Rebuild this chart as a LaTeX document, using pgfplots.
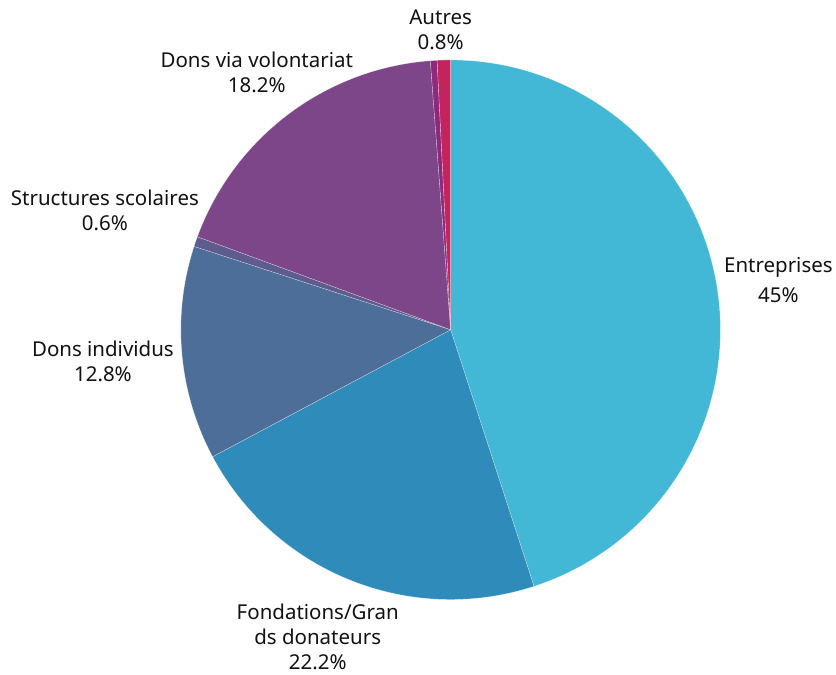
\documentclass[border=0pt]{standalone}
\usepackage{pgfplots}
\pgfplotsset{compat=1.18}
\usepackage{fontspec}
\setmainfont{Noto Sans}

\definecolor{cEnt}{HTML}{42B7D6}
\definecolor{cFon}{HTML}{2E8BBA}
\definecolor{cInd}{HTML}{4D6E98}
\definecolor{cSco}{HTML}{5E5B8E}
\definecolor{cVol}{HTML}{7D4688}
\definecolor{cOth}{HTML}{8E2A7E}
\definecolor{cAut}{HTML}{C4245E}
\definecolor{txt}{HTML}{111111}

% centre and radius in pixel units
\def\cx{451}
\def\cy{330}
\def\rr{270}

\tikzset{lbl/.style={align=center, text=txt, font=\fontsize{20.5}{25}\selectfont}}

\begin{document}
\begin{tikzpicture}
  \begin{axis}[
    scale only axis,
    width=836pt, height=675pt,
    xmin=0, xmax=836, ymin=0, ymax=675,
    y dir=reverse,
    hide axis,
    clip=false,
    every axis plot/.append style={draw=white, draw opacity=0.55, line width=0.35pt},
  ]
    \path (rel axis cs:0,0) rectangle (rel axis cs:1,1);

    % slices, start at top, clockwise
    % Entreprises 45
    \addplot[fill=cEnt, domain=-72:90, samples=160]
      ({\cx+\rr*cos(x)},{\cy-\rr*sin(x)}) -- (axis cs:\cx,\cy) -- cycle;
    % Fondations 22.2
    \addplot[fill=cFon, domain=-151.92:-72, samples=90]
      ({\cx+\rr*cos(x)},{\cy-\rr*sin(x)}) -- (axis cs:\cx,\cy) -- cycle;
    % Dons individus 12.8
    \addplot[fill=cInd, domain=-198:-151.92, samples=60]
      ({\cx+\rr*cos(x)},{\cy-\rr*sin(x)}) -- (axis cs:\cx,\cy) -- cycle;
    % Structures scolaires 0.6
    \addplot[fill=cSco, domain=-200.16:-198, samples=5]
      ({\cx+\rr*cos(x)},{\cy-\rr*sin(x)}) -- (axis cs:\cx,\cy) -- cycle;
    % Dons via volontariat 18.2
    \addplot[fill=cVol, domain=-265.68:-200.16, samples=70]
      ({\cx+\rr*cos(x)},{\cy-\rr*sin(x)}) -- (axis cs:\cx,\cy) -- cycle;
    % unlabelled 0.4
    \addplot[fill=cOth, domain=-267.12:-265.68, samples=4]
      ({\cx+\rr*cos(x)},{\cy-\rr*sin(x)}) -- (axis cs:\cx,\cy) -- cycle;
    % Autres 0.8
    \addplot[fill=cAut, domain=-270:-267.12, samples=5]
      ({\cx+\rr*cos(x)},{\cy-\rr*sin(x)}) -- (axis cs:\cx,\cy) -- cycle;

    % labels
    \node[lbl] at (axis cs:441,30) {Autres\\0.8\%};
    \node[lbl] at (axis cs:257,72) {Dons via volontariat\\18.2\%};
    \node[lbl] at (axis cs:105,211) {Structures scolaires\\0.6\%};
    \node[lbl] at (axis cs:103,362) {Dons individus\\12.8\%};
    \node[lbl] at (axis cs:318,637) {Fondations/Gran\\ds donateurs\\22.2\%};
    \node[lbl, font=\fontsize{20.5}{30}\selectfont] at (axis cs:779,280) {Entreprises\\45\%};
  \end{axis}
\end{tikzpicture}
\end{document}
